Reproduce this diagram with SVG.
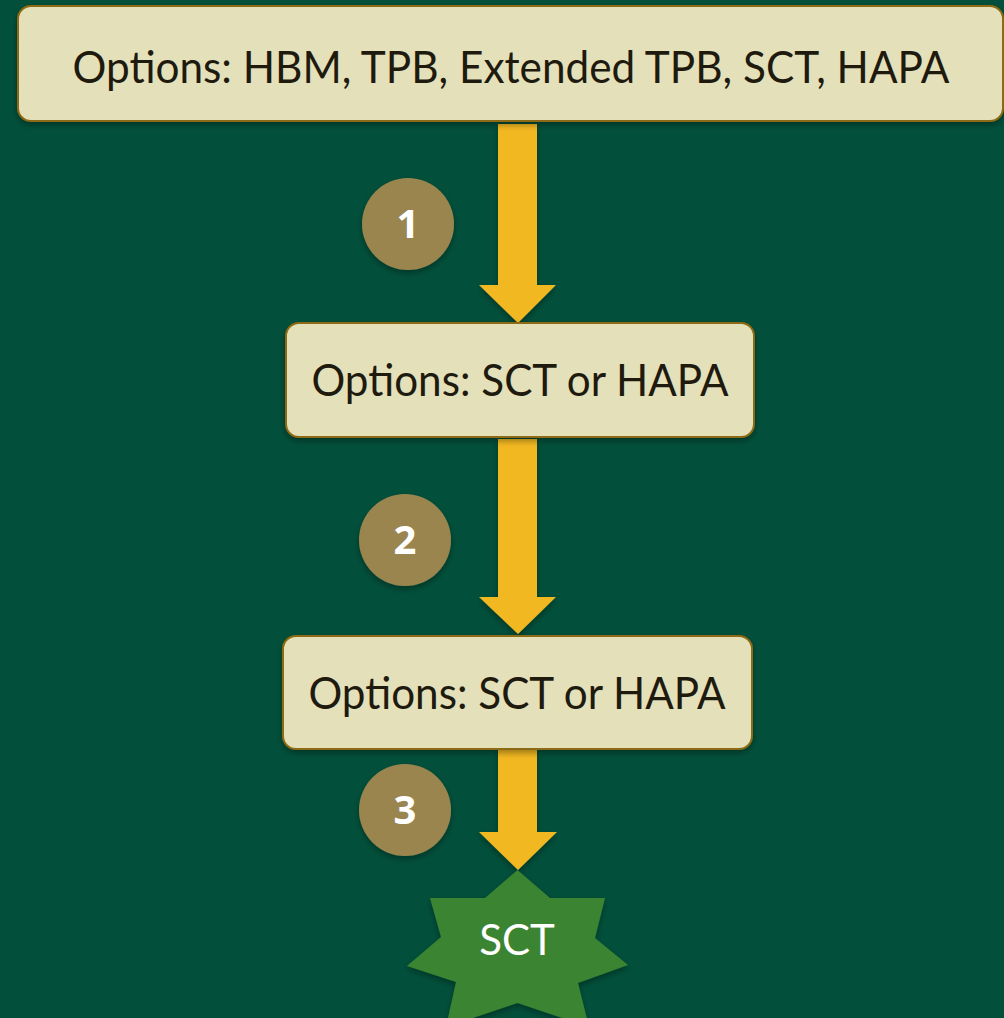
<svg xmlns="http://www.w3.org/2000/svg" width="1004" height="1018" viewBox="0 0 1004 1018">
<defs>
<filter id="sh" x="-10%" y="-10%" width="120%" height="130%">
<feDropShadow dx="0" dy="3" stdDeviation="3" flood-color="#000" flood-opacity="0.35"/>
</filter>
<style>
.box{fill:#E4E0BA;stroke:#8C6A12;stroke-width:2;filter:url(#sh)}
.bt{font-family:Lato,"Open Sans",sans-serif;font-size:44px;fill:#1E1A0E;text-anchor:middle}
.arr{fill:#F2B824;filter:url(#sh)}
.num{fill:#9A854F;filter:url(#sh)}
.nt{font-family:"Open Sans","DejaVu Sans",sans-serif;font-weight:bold;font-size:40px;fill:#fff;text-anchor:middle}
</style>
</defs>
<rect width="1004" height="1018" fill="#02503B"/>
<g id="connectors">
<path class="arr" d="M498,124 H537 V285 H556 L518,323 L479,285 H498 Z"/>
<path class="arr" d="M498,439 H537 V597 H556 L518,634 L479,597 H498 Z"/>
<path class="arr" d="M498,750 H537 V832 H557 L518,870 L479,832 H498 Z"/>
</g>
<g id="node-top">
<rect class="box" x="18" y="6" width="985" height="115" rx="13"/>
<text class="bt" x="511" y="83" textLength="877" lengthAdjust="spacingAndGlyphs">Options: HBM, TPB, Extended TPB, SCT, HAPA</text>
</g>
<g id="node-mid">
<rect class="box" x="286" y="323" width="468" height="114" rx="13"/>
<text class="bt" x="520" y="396" textLength="417" lengthAdjust="spacingAndGlyphs">Options: SCT or HAPA</text>
</g>
<g id="node-low">
<rect class="box" x="283" y="636" width="469" height="113" rx="13"/>
<text class="bt" x="517" y="709" textLength="417" lengthAdjust="spacingAndGlyphs">Options: SCT or HAPA</text>
</g>
<g id="step-1">
<circle class="num" cx="408" cy="224" r="46"/>
<text class="nt" x="408" y="238">1</text>
</g>
<g id="step-2">
<circle class="num" cx="405" cy="540" r="46"/>
<text class="nt" x="405" y="554">2</text>
</g>
<g id="step-3">
<circle class="num" cx="405" cy="810" r="46"/>
<text class="nt" x="405" y="824">3</text>
</g>
<g id="node-sct">
<polygon fill="#3A8432" filter="url(#sh)" points="517.5,870 550,898 605,898 595,938 628,965 578,983 589,1027 517.5,1003 446,1027 456,982 407,966 441,937 430,898 485,898"/>
<text x="517" y="955" font-family="Lato,'Open Sans',sans-serif" font-size="42" fill="#fff" text-anchor="middle">SCT</text>
</g>
</svg>
